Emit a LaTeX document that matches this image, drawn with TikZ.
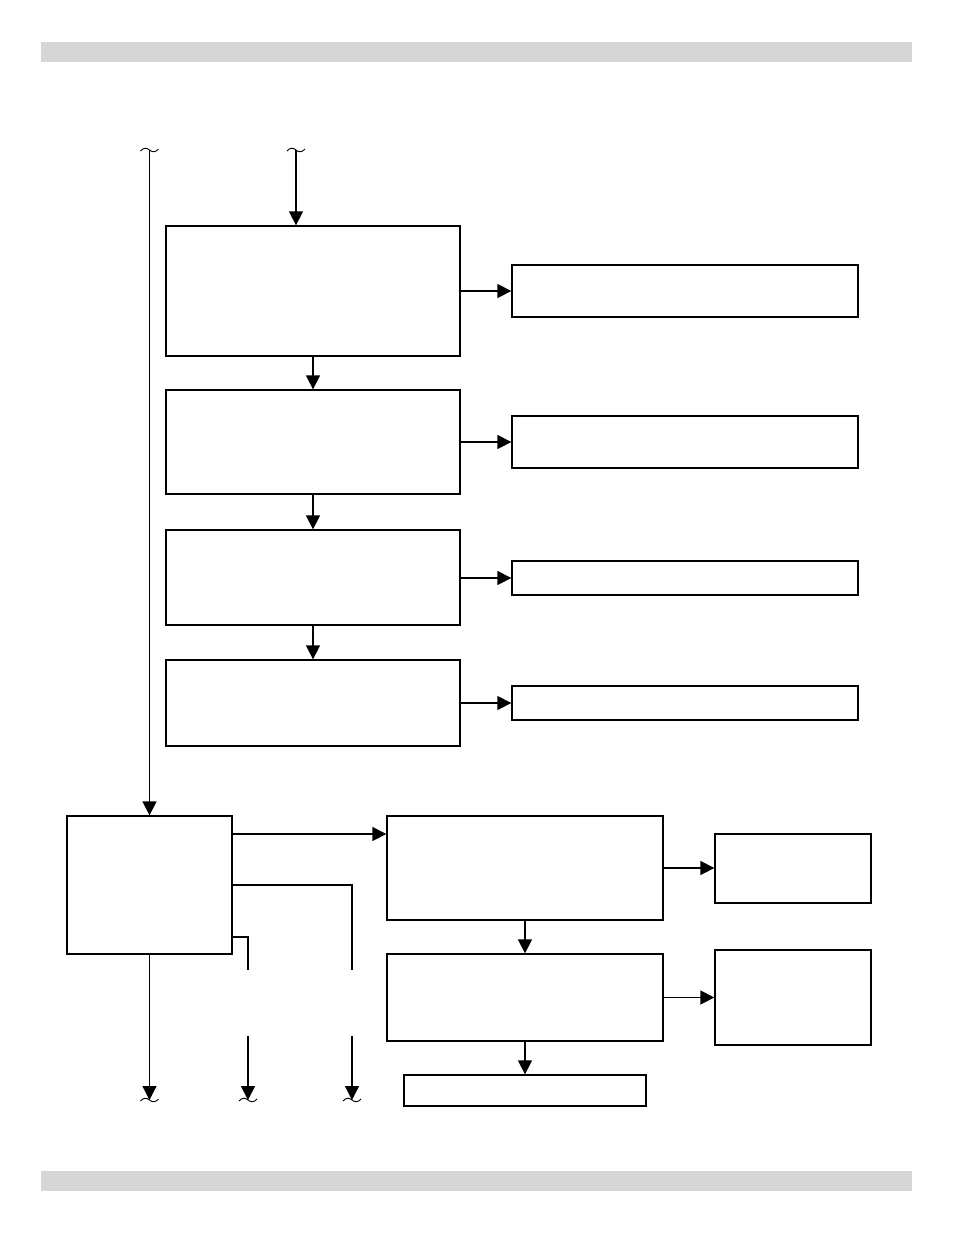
\documentclass[tikz,border=0pt]{standalone}
\usetikzlibrary{arrows.meta,calc}
\definecolor{barcol}{HTML}{D6D6D6}
\tikzset{
  box/.style={draw, line width=1.3pt, inner sep=0pt, fill=white},
  conn/.style={line width=1.3pt},
  arr/.style={conn, -{Triangle[length=14pt,width=14pt]}},
  squig/.pic={\draw[line width=0.9pt] (-9,-1) .. controls (-6,2.5) and (-3,2.5) .. (0,0) .. controls (3,-2.5) and (6,-2.5) .. (9,1);}
}
\begin{document}
\begin{tikzpicture}[x=1pt,y=1pt]
\useasboundingbox (0,0) rectangle (954,-1235);
% header / footer bars
\fill[barcol] (41,-42) rectangle (912,-62);
\fill[barcol] (41,-1171) rectangle (912,-1191);
% boxes
\node[box, minimum width=294pt, minimum height=130pt] (A) at (313,-291) {};
\node[box, minimum width=346pt, minimum height=52pt] (A2) at (685,-291) {};
\node[box, minimum width=294pt, minimum height=104pt] (B) at (313,-442) {};
\node[box, minimum width=346pt, minimum height=52pt] (B2) at (685,-442) {};
\node[box, minimum width=294pt, minimum height=95pt] (C) at (313,-577.5) {};
\node[box, minimum width=346pt, minimum height=34pt] (C2) at (685,-578) {};
\node[box, minimum width=294pt, minimum height=86pt] (D) at (313,-703) {};
\node[box, minimum width=346pt, minimum height=34pt] (D2) at (685,-703) {};
\node[box, minimum width=165pt, minimum height=138pt] (L) at (149.5,-885) {};
\node[box, minimum width=276pt, minimum height=104pt] (E) at (525,-868) {};
\node[box, minimum width=156pt, minimum height=69pt] (E2) at (793,-868.5) {};
\node[box, minimum width=276pt, minimum height=87pt] (F) at (525,-997.5) {};
\node[box, minimum width=156pt, minimum height=95pt] (F2) at (793,-997.5) {};
\node[box, minimum width=242pt, minimum height=31pt] (G) at (525,-1090.5) {};
% free ends
\coordinate (t1) at (149.5,-150);
\coordinate (t2) at (296,-150);
\coordinate (b1) at (149.5,-1100);
\coordinate (b2) at (248,-1100);
\coordinate (b3) at (352,-1100);
\coordinate (l1) at (232,-834);
\coordinate (l2) at (232,-885);
\coordinate (l3) at (232,-937);
\coordinate (m2) at (248,-970);
\coordinate (m3) at (352,-970);
\coordinate (n2) at (248,-1036);
\coordinate (n3) at (352,-1036);
% squiggles
\pic at (t1) {squig};
\pic at (t2) {squig};
\pic at (b1) {squig};
\pic at (b2) {squig};
\pic at (b3) {squig};
% top connectors
\draw[arr] (t2) -- (t2 |- A.north);
\draw[arr] (t1) -- (L.north);
% vertical chain
\draw[arr] (A.south) -- (B.north);
\draw[arr] (B.south) -- (C.north);
\draw[arr] (C.south) -- (D.north);
\draw[arr] (E.south) -- (F.north);
\draw[arr] (F.south) -- (G.north);
% side arrows
\draw[arr] (A.east) -- (A2.west);
\draw[arr] (B.east) -- (B2.west);
\draw[arr] (C.east |- C2.west) -- (C2.west);
\draw[arr] (D.east) -- (D2.west);
\draw[arr] (E.east) -- (E.east -| E2.west);
\draw[arr] (F.east) -- (F.east -| F2.west);
% from L
\draw[arr] (l1) -- (l1 -| E.west);
\draw[line width=1.8pt] (l2) -| (m3);
\draw[conn] (l3) -| (m2);
\draw[arr] (L.south) -- (b1);
\draw[arr, line width=1.8pt] (n2) -- (b2);
\draw[arr] (n3) -- (b3);
\end{tikzpicture}
\end{document}
